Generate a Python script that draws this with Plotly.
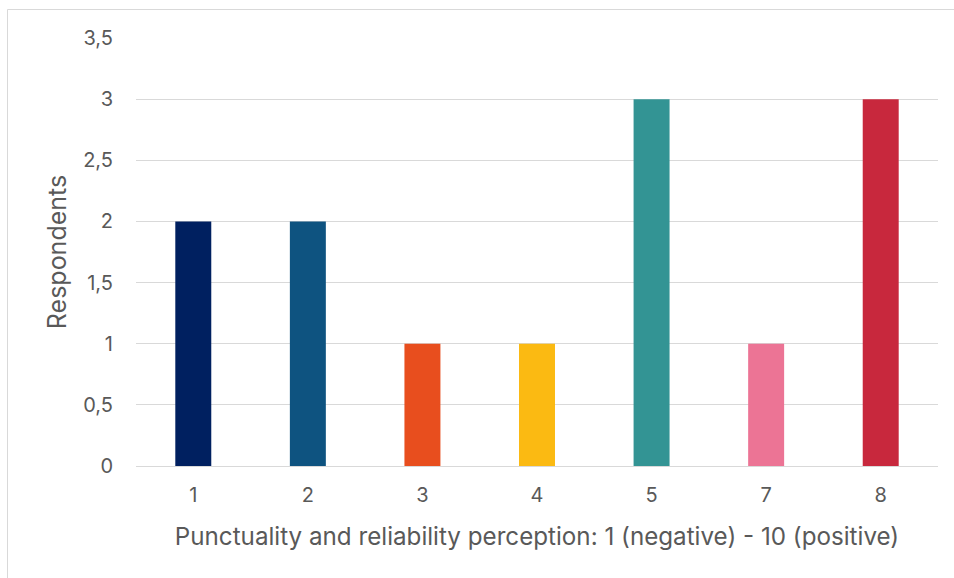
import plotly.graph_objects as go

# Survey results: punctuality and reliability perception scores
scores = ["1", "2", "3", "4", "5", "7", "8"]
respondents = [2, 2, 1, 1, 3, 1, 3]
bar_colors = ["#002060", "#0E5380", "#E84E1E", "#FBBA12", "#339494", "#EC7495", "#C8283D"]
y_ticks = [0, 0.5, 1, 1.5, 2, 2.5, 3, 3.5]

W, H = 954, 578
ML, MR, MT, MB = 136, 16, 38, 112
pw, ph = W - ML - MR, H - MT - MB

def px_x(x):
    return (x - ML) / pw

def px_y(y):
    return (H - MB - y) / ph

fig = go.Figure(
    go.Bar(
        x=scores,
        y=respondents,
        marker=dict(color=bar_colors, line=dict(width=0)),
        width=0.314,
    )
)

text_color = "#595959"
font_family = "Inter, 'Open Sans', sans-serif"

fig.update_layout(
    width=W,
    height=H,
    margin=dict(l=ML, r=MR, t=MT, b=MB),
    paper_bgcolor="white",
    plot_bgcolor="white",
    separators=", ",
    showlegend=False,
    font=dict(family=font_family, color=text_color, size=16),
    xaxis=dict(
        type="category",
        showgrid=False,
        showline=True,
        linecolor="#D9D9D9",
        linewidth=1,
        ticks="",
        tickfont=dict(size=20, color=text_color),
        ticklabelstandoff=11,
        title=dict(
            text="Punctuality and reliability perception: 1 (negative) - 10 (positive)",
            font=dict(size=24.2, color=text_color),
            standoff=22,
        ),
    ),
    yaxis=dict(
        range=[0, 3.5],
        tickvals=y_ticks,
        showgrid=True,
        gridcolor="#D9D9D9",
        gridwidth=1,
        zeroline=False,
        showline=False,
        ticks="",
        tickfont=dict(size=20, color=text_color),
        ticklabelstandoff=22,
        title=dict(text="Respondents", font=dict(size=25, color=text_color), standoff=9),
    ),
    shapes=[
        dict(
            type="rect",
            xref="paper",
            yref="paper",
            x0=px_x(7.5),
            x1=px_x(W + 20),
            y0=px_y(H + 20),
            y1=px_y(9.5),
            line=dict(color="#D9D9D9", width=1),
            fillcolor="rgba(0,0,0,0)",
            layer="below",
        )
    ],
)

fig.write_html("out.html")
